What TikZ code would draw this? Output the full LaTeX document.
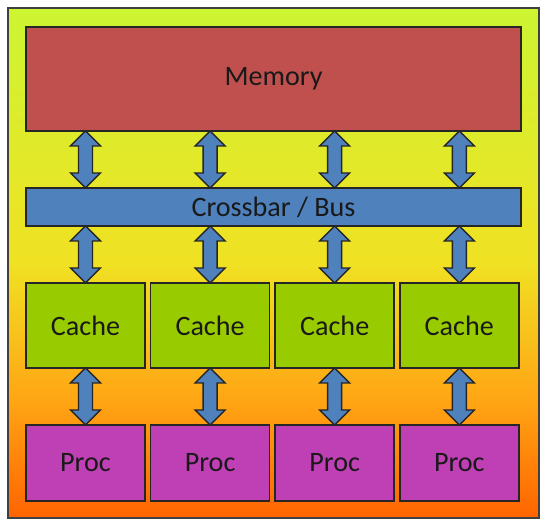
\documentclass[tikz,border=0pt]{standalone}
\usepackage{fontspec}
\setmainfont{Carlito}
\usetikzlibrary{positioning,calc}

\definecolor{BackTop}{RGB}{204,245,50}
\definecolor{BackMid}{RGB}{240,225,35}
\definecolor{BackLow}{RGB}{255,165,20}
\definecolor{BackBottom}{RGB}{255,100,0}
\definecolor{MemoryFill}{RGB}{192,80,77}
\definecolor{BusFill}{RGB}{79,129,189}
\definecolor{CacheFill}{RGB}{153,204,0}
\definecolor{ProcFill}{RGB}{190,64,180}

\pgfdeclareverticalshading{BackShade}{100bp}{color(0bp)=(BackBottom); color(25bp)=(BackBottom);
  color(36.5bp)=(BackLow); color(50bp)=(BackMid); color(75bp)=(BackTop); color(100bp)=(BackTop)}

\newcommand{\headhw}{0.375cm}
\newcommand{\headl}{0.375cm}
\newcommand{\shafthw}{0.175cm}

% flecha doble entre dos nodos, en la columna del nodo #1
\newcommand{\busarrow}[3]{%
  \draw[barrow] let \p1=(#2.south -| #1), \p2=(#3.north -| #1) in
    (\x1,\y1) -- (\x1+\headhw,\y1-\headl) -- (\x1+\shafthw,\y1-\headl)
    -- (\x1+\shafthw,\y2+\headl) -- (\x1+\headhw,\y2+\headl) -- (\x1,\y2)
    -- (\x1-\headhw,\y2+\headl) -- (\x1-\shafthw,\y2+\headl)
    -- (\x1-\shafthw,\y1-\headl) -- (\x1-\headhw,\y1-\headl) -- cycle;}

\tikzset{
  box/.style={draw=black!85, line width=1pt, inner sep=0pt, outer sep=0pt, text=black!90,
    font=\fontsize{20}{24}\selectfont},
  membox/.style={box, fill=MemoryFill, minimum width=12.375cm, minimum height=2.6cm},
  busbox/.style={box, fill=BusFill, minimum width=12.375cm, minimum height=0.95cm},
  cachebox/.style={box, fill=CacheFill, minimum width=2.975cm, minimum height=2.125cm},
  procbox/.style={box, fill=ProcFill, minimum width=2.975cm, minimum height=1.9cm},
  barrow/.style={draw=black!85, line width=1pt, fill=BusFill, line join=miter}
}

\begin{document}
\begin{tikzpicture}

\useasboundingbox (0,0) rectangle (13.725,13.175);

% Fondo
\shadedraw[shading=BackShade, draw=black!75, line width=0.8pt]
  (0.2,0.225) rectangle (13.475,12.975);

\node[membox] (mem) at (6.8375,11.2) {Memory};
\node[busbox] (bus) at (6.8375,8.0) {Crossbar / Bus};

\coordinate (procrow) at (0,1.6);

\node[cachebox] (c1) at (2.1375,5.0375) {Cache};
\foreach \i [count=\j from 2] in {1,2,3}
  \node[cachebox, right=0.14cm of c\i] (c\j) {Cache};

\foreach \i in {1,...,4}
  \node[procbox] (p\i) at (c\i |- procrow) {Proc};

% Flechas
\foreach \i in {1,...,4} {
  \busarrow{c\i}{mem}{bus}
  \busarrow{c\i}{bus}{c\i}
  \busarrow{c\i}{c\i}{p\i}
}

\end{tikzpicture}
\end{document}
